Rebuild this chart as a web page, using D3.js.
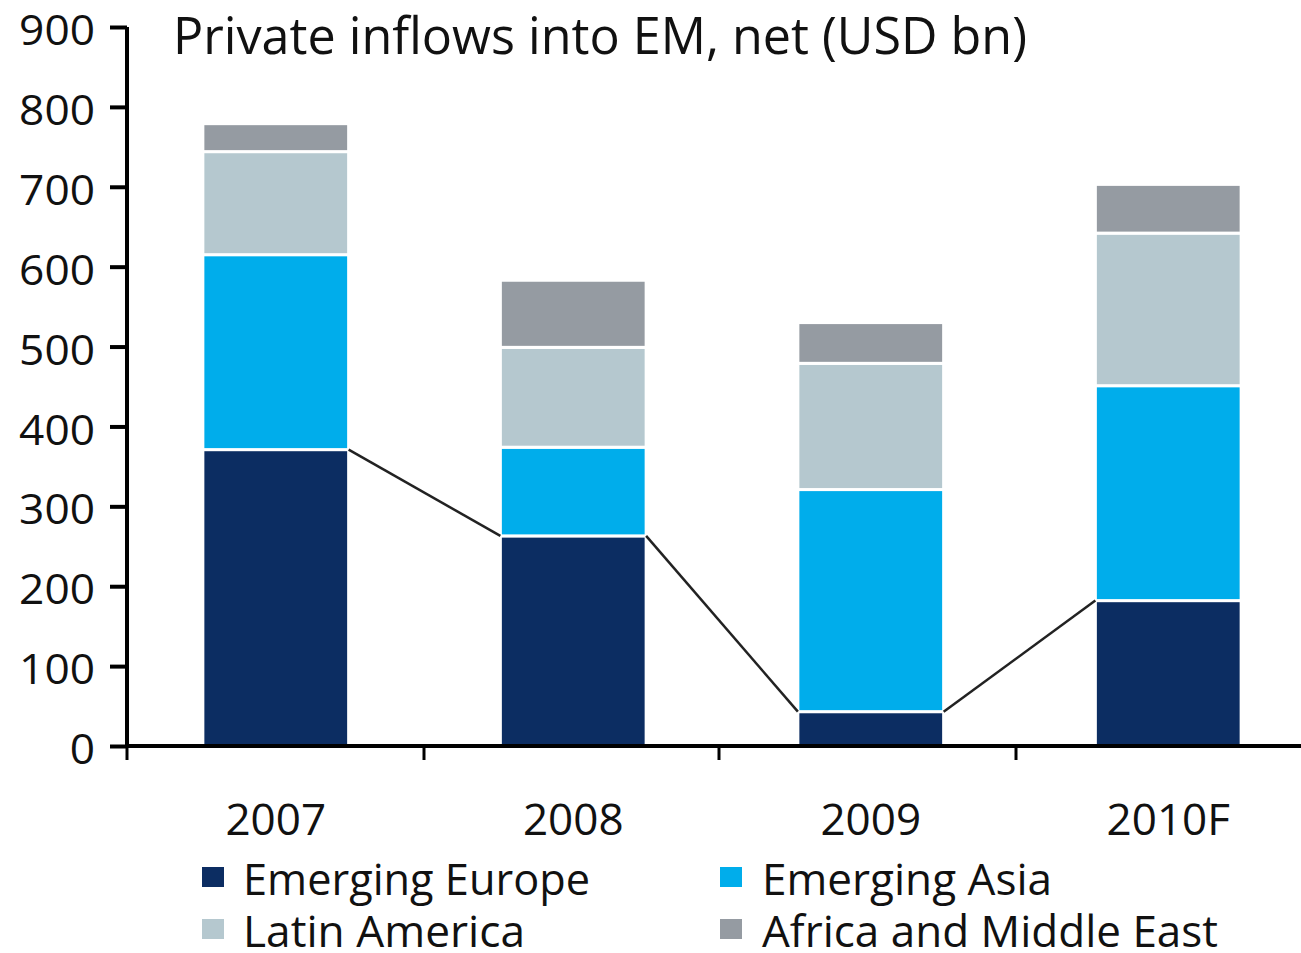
<!DOCTYPE html>
<html><head><meta charset="utf-8">
<script src="https://cdn.jsdelivr.net/npm/d3@7"></script>
<style>body{margin:0;background:#fff}svg{display:block}text{font-family:"Open Sans",sans-serif;fill:#111}</style>
</head><body>
<svg id="c" width="1301" height="953"></svg>
<script>
const title = "Private inflows into EM, net (USD bn)";
const categories = ["2007","2008","2009","2010F"];
const seriesNames = ["Emerging Europe","Emerging Asia","Latin America","Africa and Middle East"];
const colors = ["#0c2d62","#00adeb","#b5c8cf","#959ba2"];
const emergingEurope = [371, 263, 43, 182];
const emergingAsia = [244, 111, 278, 269];
const latinAmerica = [129, 125, 158, 191];
const africaMiddleEast = [35, 84, 51, 61];
const yTicks = [0,100,200,300,400,500,600,700,800,900];

const values = [emergingEurope, emergingAsia, latinAmerica, africaMiddleEast];
const data = categories.map((c,i)=>{const o={cat:c}; seriesNames.forEach((s,j)=>o[s]=values[j][i]); return o;});
const stacked = d3.stack().keys(seriesNames)(data);

const svg = d3.select("#c");
const x = d3.scaleBand().domain(categories).range([127,1317]).paddingInner(0.51).paddingOuter(0.255);
const y = d3.scaleLinear().domain([0,900]).range([746,27]);

// bars
svg.append("g").selectAll("g").data(stacked).join("g").attr("fill",(d,i)=>colors[i])
  .selectAll("rect").data(d=>d).join("rect")
  .attr("x",d=>x(d.data.cat)).attr("width",x.bandwidth())
  .attr("y",d=>y(d[1])).attr("height",d=>y(d[0])-y(d[1]))
  .attr("stroke","#fff").attr("stroke-width",3);

// connecting line for Emerging Europe
const pts=[];
categories.forEach((c,i)=>{
  const v=emergingEurope[i];
  if(i>0) pts.push([x(c), y(v)]);
  if(i<categories.length-1) pts.push([x(c)+x.bandwidth(), y(v)]);
});
for(let k=0;k<pts.length;k+=2){
  svg.append("line").attr("x1",pts[k][0]).attr("y1",pts[k][1]).attr("x2",pts[k+1][0]).attr("y2",pts[k+1][1])
    .attr("stroke","#222").attr("stroke-width",2.5);
}

// y axis
const yAxis = svg.append("g").attr("transform","translate(127,0)")
  .call(d3.axisLeft(y).tickValues(yTicks).tickSize(17).tickPadding(14));
yAxis.select(".domain").attr("stroke","#000").attr("stroke-width",4).attr("d","M0,746V27");
yAxis.selectAll(".tick line").attr("stroke","#000").attr("stroke-width",4);
yAxis.selectAll("text").style("font-family","'Open Sans',sans-serif").attr("font-size",42).attr("fill","#111").attr("dy","0.42em")
  .attr("x",-32).attr("textLength",d=>String(d).length*25.3).attr("lengthAdjust","spacingAndGlyphs");

// x axis
const xTickPos = [127,424,719,1016];
svg.append("line").attr("x1",127).attr("x2",1301).attr("y1",746).attr("y2",746).attr("stroke","#000").attr("stroke-width",4);
svg.append("g").selectAll("line").data(xTickPos).join("line")
  .attr("x1",d=>d).attr("x2",d=>d).attr("y1",746).attr("y2",760).attr("stroke","#000").attr("stroke-width",3);
svg.append("g").selectAll("text").data(categories).join("text")
  .attr("x",d=>x(d)+x.bandwidth()/2).attr("y",835).attr("text-anchor","middle").attr("font-size",44)
  .text(d=>d);

// title
svg.append("text").attr("x",173).attr("y",54).attr("font-size",52)
  .attr("textLength",854).attr("lengthAdjust","spacingAndGlyphs").text(title);

// legend
const legPos = [[202,877,347],[720,877,290],[202,929,282],[720,929,456]];
const lg = svg.append("g").selectAll("g").data(seriesNames).join("g")
  .attr("transform",(d,i)=>`translate(${legPos[i][0]},${legPos[i][1]})`);
lg.append("rect").attr("x",0).attr("y",-10).attr("width",22).attr("height",20).attr("fill",(d,i)=>colors[i]);
lg.append("text").attr("x",(d,i)=>i%2===0?41:42).attr("y",18).attr("font-size",44)
  .attr("textLength",(d,i)=>legPos[i][2]).attr("lengthAdjust","spacingAndGlyphs").text(d=>d);
</script>
</body></html>
